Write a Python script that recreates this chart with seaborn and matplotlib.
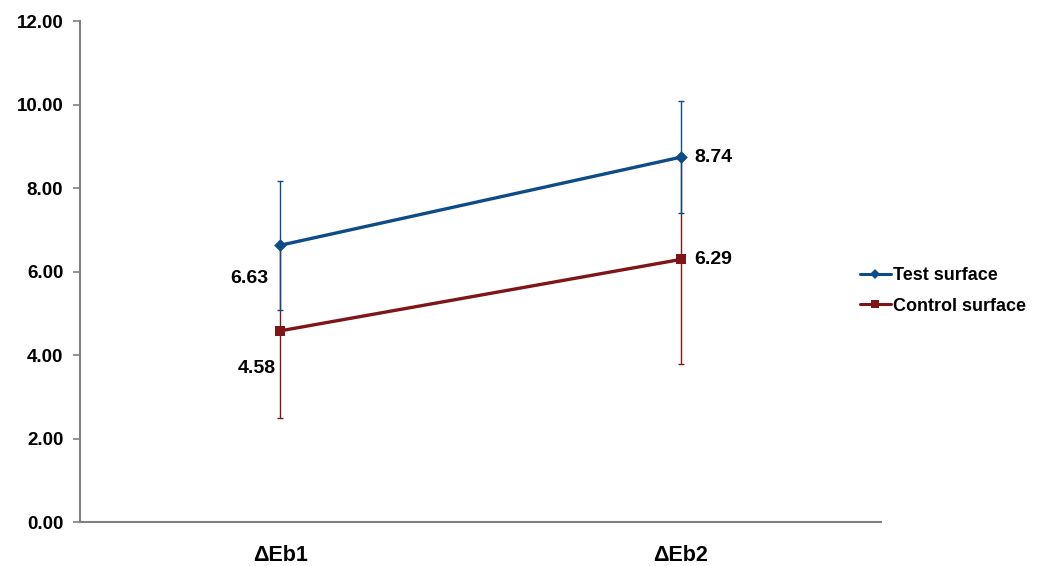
import matplotlib
matplotlib.use("Agg")
import matplotlib.pyplot as plt
import seaborn as sns
import pandas as pd
from matplotlib.lines import Line2D

# Data
categories = ["ΔEb1", "ΔEb2"]
series_names = ["Test surface", "Control surface"]
test_means = [6.63, 8.74]
test_sd = [1.54, 1.34]
control_means = [4.58, 6.29]
control_sd = [2.08, 2.51]
y_ticks = [0, 2, 4, 6, 8, 10, 12]

colors = {"Test surface": "#0E4C87", "Control surface": "#7E1518"}
markers = {"Test surface": "D", "Control surface": "s"}
marker_sizes = {"Test surface": 6.5, "Control surface": 7.5}

df = pd.DataFrame({
    "category": categories * 2,
    "value": test_means + control_means,
    "sd": test_sd + control_sd,
    "series": [series_names[0]] * 2 + [series_names[1]] * 2,
})

sns.set_style("white")
plt.rcParams["font.family"] = ["Liberation Sans", "DejaVu Sans"]
plt.rcParams["font.weight"] = "bold"
plt.rcParams["text.color"] = "black"
plt.rcParams["xtick.labelcolor"] = "black"
plt.rcParams["ytick.labelcolor"] = "black"

fig = plt.figure(figsize=(10.47, 5.66), dpi=100)
ax = fig.add_axes([0.0764, 0.0777, 0.765, 0.885])

# Error bars (drawn beneath the lines)
for name in series_names[::-1]:
    sub = df[df["series"] == name]
    ax.errorbar(range(len(sub)), sub["value"], yerr=sub["sd"], fmt="none",
                ecolor=colors[name], elinewidth=1.0, capsize=2.2, capthick=1.0,
                zorder=2)

# Lines with markers
sns.lineplot(data=df, x="category", y="value", hue="series",
             hue_order=series_names, palette=colors,
             linewidth=2.4, ax=ax, zorder=3, legend=False)
for name in series_names:
    sub = df[df["series"] == name]
    sns.scatterplot(x=list(range(len(sub))), y=sub["value"].values, ax=ax,
                    marker=markers[name], color=colors[name],
                    s=marker_sizes[name] ** 2, linewidth=0, zorder=4,
                    legend=False)

# Value labels
offsets = {
    ("Test surface", 0): (-31, -33, "center"),
    ("Control surface", 0): (-23, -38, "center"),
    ("Test surface", 1): (14, 0, "left"),
    ("Control surface", 1): (14, 0, "left"),
}
for name, means in zip(series_names, [test_means, control_means]):
    for i, v in enumerate(means):
        dx, dy, ha = offsets[(name, i)]
        ax.annotate(f"{v:.2f}", xy=(i, v), xytext=(dx, dy),
                    textcoords="offset pixels", ha=ha, va="center",
                    fontsize=14, fontweight="bold", color="black")

ax.set_xlim(-0.5, 1.5)
ax.set_ylim(0, 12)
ax.set_yticks(y_ticks)
ax.set_yticklabels([f"{t:.2f}" for t in y_ticks])
ax.set_xticks(range(len(categories)))
ax.set_xticklabels(categories)
ax.set_xlabel("")
ax.set_ylabel("")

for side in ["top", "right"]:
    ax.spines[side].set_visible(False)
for side in ["left", "bottom"]:
    ax.spines[side].set_color("#808080")
    ax.spines[side].set_linewidth(1.5)

ax.tick_params(axis="y", which="both", left=True, length=5, width=1.2,
               color="#808080", labelsize=13.5, pad=7, labelcolor="black")
ax.tick_params(axis="x", which="both", bottom=False, labelsize=15.5, pad=13,
               labelcolor="black")
for lab in ax.get_xticklabels() + ax.get_yticklabels():
    lab.set_fontweight("bold")

# Legend
handles = [Line2D([], [], color=colors[n], marker=markers[n],
                  markersize=marker_sizes[n] - 1.5, markeredgewidth=0,
                  linewidth=2.2) for n in series_names]
fig.legend(handles, series_names, loc="center left",
           bbox_to_anchor=(0.806, 0.486), frameon=False,
           prop={"size": 13, "weight": "bold"}, handlelength=1.7,
           handletextpad=0.1, labelspacing=0.75)

fig.savefig("out.png", dpi=100)
